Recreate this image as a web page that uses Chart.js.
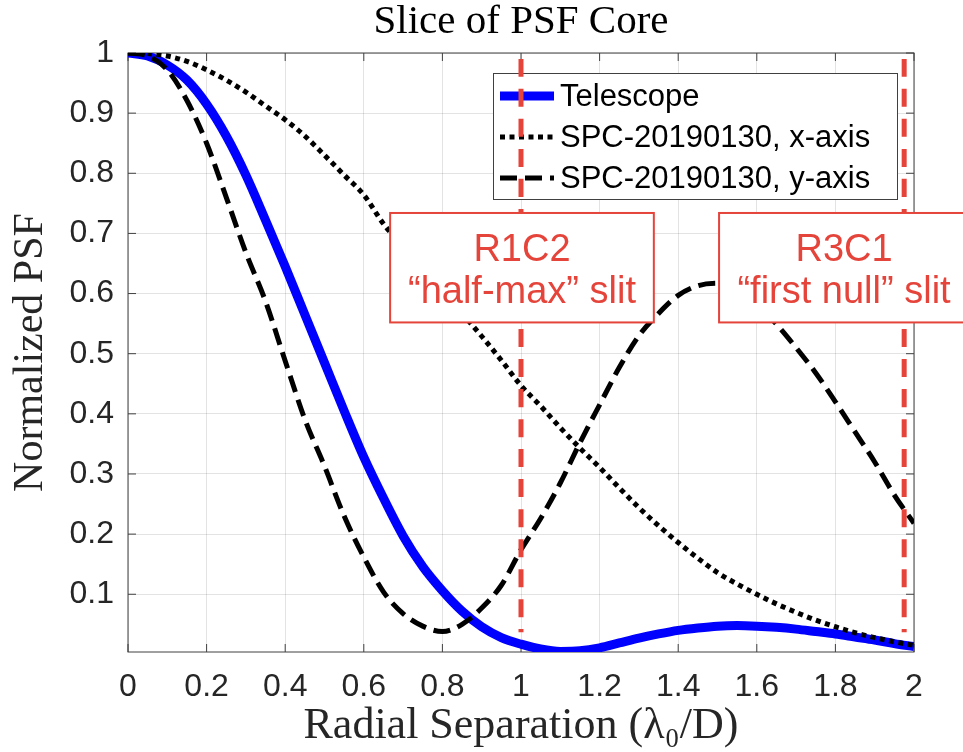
<!DOCTYPE html>
<html>
<head>
<meta charset="utf-8">
<script src="https://cdn.jsdelivr.net/npm/chart.js@4.4.0/dist/chart.umd.min.js"></script>
<style>
  html, body { margin: 0; padding: 0; background: #fff; }
  #wrap { width: 963px; height: 752px; position: relative; }
</style>
</head>
<body>
<div id="wrap"><canvas id="chartPsf"></canvas></div>
<script>
// radial separation (lambda0/D)
const separation = [0, 0.05, 0.1, 0.15, 0.2, 0.25, 0.3, 0.35, 0.4, 0.45, 0.5, 0.55, 0.6, 0.65, 0.7, 0.75, 0.8, 0.85, 0.9, 0.95,
  1, 1.05, 1.1, 1.15, 1.2, 1.25, 1.3, 1.35, 1.4, 1.45, 1.5, 1.55, 1.6, 1.65, 1.7, 1.75, 1.8, 1.85, 1.9, 1.95, 2]

const telescope = [1.0, 0.995, 0.98, 0.955, 0.915, 0.862, 0.797, 0.722, 0.645, 0.565, 0.485, 0.405, 0.328, 0.26, 0.197, 0.146, 0.106, 0.072, 0.046, 0.028,
  0.017, 0.009, 0.005, 0.006, 0.011, 0.019, 0.027, 0.034, 0.04, 0.044, 0.047, 0.048, 0.047, 0.045, 0.042, 0.038, 0.034, 0.029, 0.024, 0.018, 0.013]

const spcXAxis = [1.0, 0.999, 0.995, 0.986, 0.972, 0.955, 0.935, 0.912, 0.889, 0.862, 0.83, 0.797, 0.764, 0.716, 0.678, 0.641, 0.604, 0.567, 0.529, 0.489,
  0.447, 0.413, 0.377, 0.343, 0.311, 0.277, 0.244, 0.214, 0.186, 0.16, 0.136, 0.117, 0.1, 0.084, 0.07, 0.057, 0.046, 0.036, 0.028, 0.021, 0.015]

const spcYAxis = [1.0, 0.995, 0.972, 0.921, 0.85, 0.76, 0.668, 0.587, 0.488, 0.391, 0.313, 0.23, 0.162, 0.104, 0.068, 0.047, 0.038, 0.05, 0.077, 0.115,
  0.174, 0.226, 0.285, 0.352, 0.415, 0.477, 0.53, 0.567, 0.597, 0.613, 0.617, 0.607, 0.582, 0.549, 0.51, 0.468, 0.42, 0.37, 0.32, 0.265, 0.218]

// slit positions (red dashed markers)
const slitPositions = [1, 1.975]
const slitRange = [0.99, 0.037]

const xTicks = [0, 0.2, 0.4, 0.6, 0.8, 1, 1.2, 1.4, 1.6, 1.8, 2]
const yTicks = [0.1, 0.2, 0.3, 0.4, 0.5, 0.6, 0.7, 0.8, 0.9, 1]

const slitLabels = [
  { left: 0.667, right: 1.338, top: 0.734, bottom: 0.552, lines: ['R1C2', '\u201Chalf-max\u201D slit'] },
  { left: 1.504, right: 2.14, top: 0.734, bottom: 0.552, lines: ['R3C1', '\u201Cfirst null\u201D slit'] }
]

const red = '#e5443b'
const axisColor = '#404040'
const gridColor = 'rgba(0,0,0,0.11)'
const sansFont = '"Liberation Sans", Arial, sans-serif'
const serifFont = '"Liberation Serif", "Times New Roman", serif'

function toPoints(values) {
  return separation.map((x, i) => ({ x: x, y: values[i] }))
}

const datasets = [
  { label: 'Telescope', data: toPoints(telescope), borderColor: '#0000ff', borderWidth: 9, order: 3 },
  { label: 'SPC-20190130, x-axis', data: toPoints(spcXAxis), borderColor: '#000', borderWidth: 5, borderDash: [5, 4.5], order: 2 },
  { label: 'SPC-20190130, y-axis', data: toPoints(spcYAxis), borderColor: '#000', borderWidth: 5, borderDash: [17, 8], order: 1 }
]

slitPositions.forEach(pos => {
  datasets.push({
    label: 'slit', slit: true,
    data: slitRange.map(v => ({ x: pos, y: v })),
    borderColor: red, borderWidth: 5, borderDash: [18, 12], order: 0
  })
})

function drawLegend(chart) {
  const { ctx, chartArea } = chart
  const x0 = chartArea.left + 365
  const y0 = chartArea.top + 20
  const w = 404, h = 126

  ctx.save()
  ctx.fillStyle = '#fff'
  ctx.fillRect(x0, y0, w, h)
  ctx.strokeStyle = axisColor
  ctx.lineWidth = 1
  ctx.strokeRect(x0 + 0.5, y0 + 0.5, w, h)

  chart.data.datasets.filter(ds => !ds.slit).forEach((ds, i) => {
    const y = y0 + 23 + i * 41
    ctx.beginPath()
    ctx.strokeStyle = ds.borderColor
    ctx.lineWidth = ds.borderWidth
    ctx.setLineDash(ds.borderDash || [])
    ctx.moveTo(x0 + 7, y)
    ctx.lineTo(x0 + 61, y)
    ctx.stroke()
    ctx.setLineDash([])
    ctx.fillStyle = '#000'
    ctx.font = '31px ' + sansFont
    ctx.textAlign = 'left'
    ctx.textBaseline = 'middle'
    ctx.fillText(ds.label, x0 + 67, y + 1)
  })
  ctx.restore()
}

const framePlugin = {
  id: 'frame',
  beforeDraw(chart) {
    chart.$legendDone = false
  },
  beforeDatasetsDraw(chart) {
    const { ctx, chartArea, scales } = chart
    const { left, right, top, bottom } = chartArea
    ctx.save()
    ctx.strokeStyle = axisColor
    ctx.lineWidth = 1
    ctx.strokeRect(left, top, right - left, bottom - top)
    ctx.beginPath()
    xTicks.forEach(v => {
      const px = scales.x.getPixelForValue(v)
      ctx.moveTo(px, bottom); ctx.lineTo(px, bottom - 8)
      ctx.moveTo(px, top); ctx.lineTo(px, top + 8)
    })
    yTicks.forEach(v => {
      const py = scales.y.getPixelForValue(v)
      ctx.moveTo(left, py); ctx.lineTo(left + 8, py)
      ctx.moveTo(right, py); ctx.lineTo(right - 8, py)
    })
    ctx.stroke()
    ctx.restore()
  },
  beforeDatasetDraw(chart, args) {
    // legend sits above the curves but under the slit markers
    if (chart.$legendDone || !chart.data.datasets[args.index].slit) return
    chart.$legendDone = true
    drawLegend(chart)
  },
  afterDatasetsDraw(chart) {
    const { ctx, scales } = chart
    ctx.save()
    slitLabels.forEach(b => {
      const x1 = scales.x.getPixelForValue(b.left)
      const x2 = scales.x.getPixelForValue(b.right)
      const y1 = scales.y.getPixelForValue(b.top)
      const y2 = scales.y.getPixelForValue(b.bottom)
      ctx.fillStyle = '#fff'
      ctx.fillRect(x1, y1, x2 - x1, y2 - y1)
      ctx.strokeStyle = red
      ctx.lineWidth = 2
      ctx.strokeRect(x1, y1, x2 - x1, y2 - y1)
      ctx.fillStyle = red
      ctx.font = '38px ' + sansFont
      ctx.textAlign = 'center'
      ctx.textBaseline = 'alphabetic'
      const cx = (x1 + x2) / 2
      ctx.fillText(b.lines[0], cx, y1 + 48)
      ctx.fillText(b.lines[1], cx, y1 + 90)
    })
    ctx.restore()
  }
}

const fmt = v => String(Math.round(v * 10) / 10)

const chartPsf = document.getElementById('chartPsf')

new Chart(chartPsf, {
  type: 'line',
  data: { datasets: datasets },
  options: {
    responsive: true,
    maintainAspectRatio: false,
    animation: false,
    events: [],
    layout: { padding: { left: 0, right: 49, top: 0, bottom: 0 } },
    elements: {
      point: { radius: 0 },
      line: { cubicInterpolationMode: 'monotone', borderCapStyle: 'butt', fill: false }
    },
    plugins: {
      legend: { display: false },
      tooltip: { enabled: false },
      title: {
        display: true,
        fullSize: false,
        text: 'Slice of PSF Core',
        color: '#000',
        font: { family: serifFont, size: 41, weight: 'normal', lineHeight: 1 },
        padding: { top: 2, bottom: 10 }
      }
    },
    scales: {
      x: {
        type: 'linear',
        min: 0,
        max: 2,
        afterBuildTicks: s => { s.ticks = xTicks.map(v => ({ value: v })) },
        afterFit: s => { s.height = 100 },
        grid: { color: gridColor, drawTicks: false },
        border: { display: false },
        ticks: {
          color: '#262626', padding: 16, autoSkip: false, maxRotation: 0,
          font: { family: sansFont, size: 32, lineHeight: 1.2 },
          callback: v => fmt(v)
        },
        title: {
          display: true,
          text: 'Radial Separation (\u03BB\u2080/D)',
          color: '#262626',
          font: { family: serifFont, size: 44, lineHeight: 1.2 },
          padding: { top: 0, bottom: -1 }
        }
      },
      y: {
        type: 'linear',
        min: 0.004,
        max: 1,
        afterBuildTicks: s => { s.ticks = yTicks.map(v => ({ value: v })) },
        afterFit: s => { s.width = 128 },
        grid: { color: gridColor, drawTicks: false },
        border: { display: false },
        ticks: {
          color: '#262626', padding: 14, autoSkip: false,
          font: { family: sansFont, size: 32, lineHeight: 1.2 },
          callback: v => fmt(v)
        },
        title: {
          display: true,
          text: 'Normalized PSF',
          color: '#262626',
          font: { family: serifFont, size: 42, lineHeight: 1.2 },
          padding: { top: 6, bottom: 0 }
        }
      }
    }
  },
  plugins: [framePlugin]
})
</script>
</body>
</html>
